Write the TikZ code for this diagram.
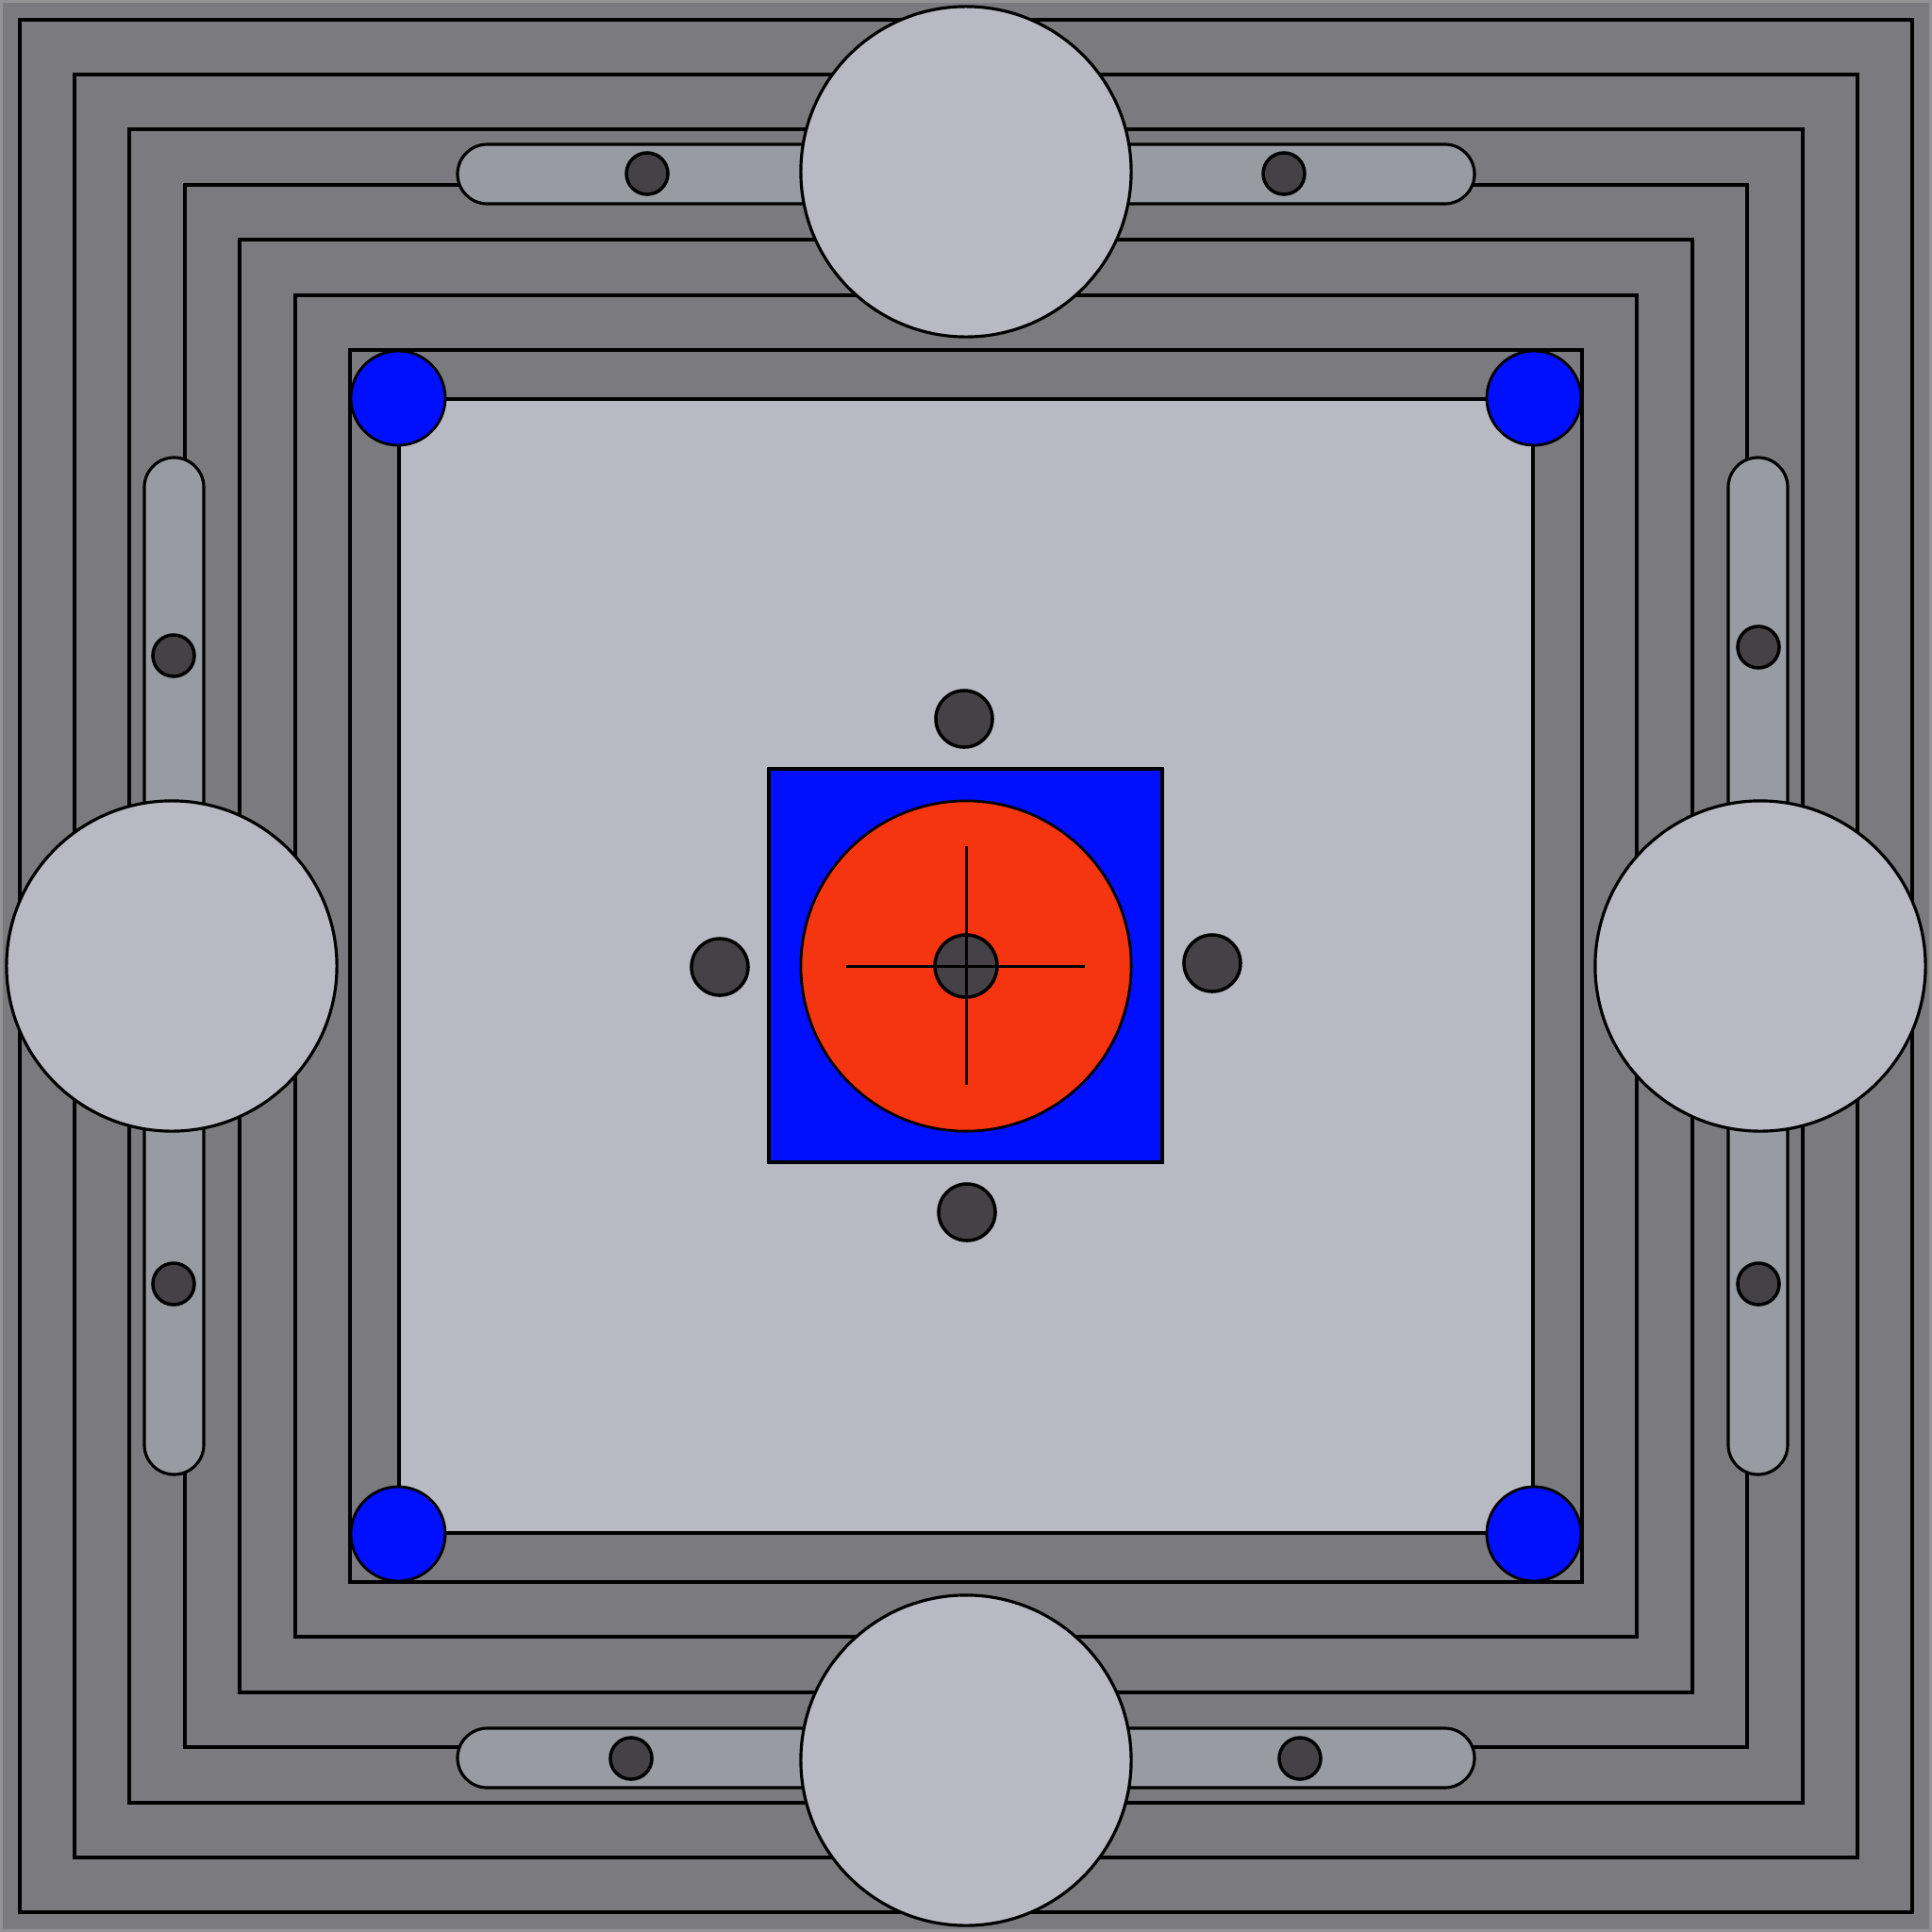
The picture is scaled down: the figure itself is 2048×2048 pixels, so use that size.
\documentclass[tikz,border=0pt]{standalone}
\definecolor{bggray}{HTML}{7B7A7E}
\definecolor{edgegray}{HTML}{929294}
\definecolor{lightfill}{HTML}{B8B9C2}
\definecolor{slotfill}{HTML}{989BA2}
\definecolor{darkdot}{HTML}{444246}
\definecolor{bluefill}{HTML}{0010FE}
\definecolor{redfill}{HTML}{F43510}
\tikzset{
  frameline/.style={draw=black,line width=1pt},
  slotshape/.style={draw=black,fill=slotfill,line width=0.9pt,rounded corners=0.315cm},
  bigdisc/.style={draw=black,fill=lightfill,line width=0.9pt},
  smalldot/.style={draw=black,fill=darkdot,line width=1pt},
  bluedisc/.style={draw=black,fill=bluefill,line width=0.8pt},
  reddisc/.style={draw=black,fill=redfill,line width=0.8pt},
  crossline/.style={draw=black,line width=0.85pt}
}
\begin{document}
\begin{tikzpicture}[x=0.01cm,y=-0.01cm]
\useasboundingbox (0,0) rectangle (2048,2048);
\fill[edgegray] (0,0) rectangle (2048,2048);
\fill[bggray] (3,3) rectangle (2045,2045);
% concentric square outlines
\foreach \a in {21,79,137,196,254,313,371}{
  \pgfmathsetmacro{\b}{2048-\a}
  \draw[frameline] (\a,\a) rectangle (\b,\b);
}
% inner light square
\draw[frameline,fill=lightfill] (423,423) rectangle (1625,1625);
% slots
\draw[slotshape] (485,153) rectangle (1563,216);
\draw[slotshape] (485,1832) rectangle (1563,1895);
\draw[slotshape] (153,485) rectangle (216,1563);
\draw[slotshape] (1832,485) rectangle (1895,1563);
% big discs
\draw[bigdisc] (1024,182) circle[radius=1.75cm];
\draw[bigdisc] (1024,1866) circle[radius=1.75cm];
\draw[bigdisc] (182,1024) circle[radius=1.75cm];
\draw[bigdisc] (1866,1024) circle[radius=1.75cm];
% slot dots
\foreach \p in {(686,184),(1361,184),(669,1864),(1378,1864),(184,695),(184,1361),(1864,686),(1864,1361)}{
  \draw[smalldot] \p circle[radius=0.22cm];
}
% blue corner discs
\foreach \p in {(422,422),(1626,422),(422,1626),(1626,1626)}{
  \draw[bluedisc] \p circle[radius=0.5cm];
}
% central assembly
\draw[bluedisc,line width=1pt] (815,815) rectangle (1232,1232);
\draw[reddisc] (1024,1024) circle[radius=1.75cm];
\draw[smalldot] (1024,1024) circle[radius=0.33cm];
\draw[crossline] (1024,897) -- (1024,1150);
\draw[crossline] (897,1024) -- (1150,1024);
% four dots around
\foreach \p in {(1022,762),(763,1025),(1285,1021),(1025,1285)}{
  \draw[smalldot] \p circle[radius=0.3cm];
}
\end{tikzpicture}
\end{document}
